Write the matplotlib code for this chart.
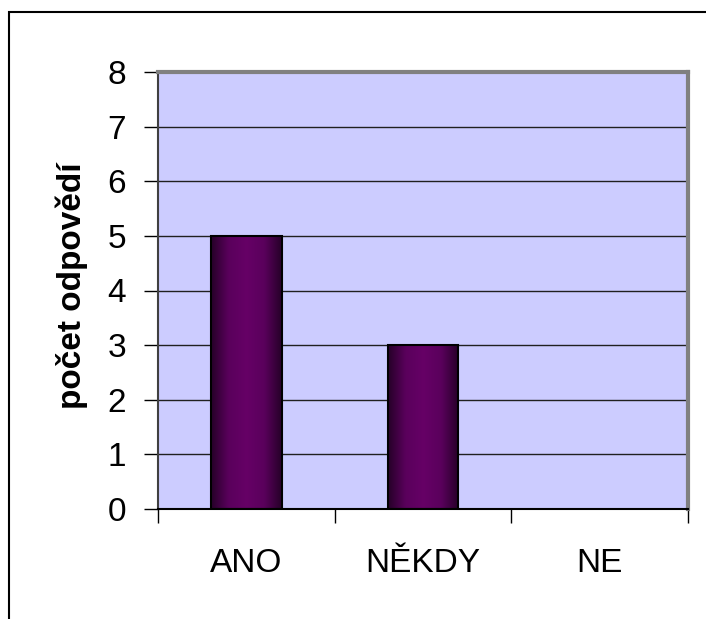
import numpy as np
import matplotlib.pyplot as plt
from matplotlib.colors import LinearSegmentedColormap
from matplotlib.patches import Rectangle

kategorie = ['ANO', 'NĚKDY', 'NE']
pocty = [5, 3, 0]
y_ticks = [0, 1, 2, 3, 4, 5, 6, 7, 8]

plt.rcParams['font.family'] = ['Liberation Sans', 'DejaVu Sans']

W, H = 706, 619
fig = plt.figure(figsize=(W / 100, H / 100), dpi=100)
fig.patch.set_facecolor('white')

# ramecek kolem celeho grafu (vpravo a dole presahuje obrazek)
fig.add_artist(Rectangle((9 / W, -0.1), 1.2, 1 - 12 / H + 0.1, transform=fig.transFigure,
                         fill=False, edgecolor='black', linewidth=1.5))

ax = fig.add_axes([158 / W, 1 - 509 / H, (688 - 158) / W, (509 - 72) / H])
ax.set_facecolor('#CCCCFF')

x = np.arange(len(kategorie))
sirka = 0.4

# vodorovna mrizka
for t in y_ticks[1:-1]:
    ax.axhline(t, color='#202020', linewidth=1, zorder=1)

# sloupce s prechodem tmava-fialova-tmava
cmap = LinearSegmentedColormap.from_list('sloupec', ['#260028', '#5a005c', '#660066', '#5a005c', '#260028'])
gradient = np.linspace(0, 1, 256).reshape(1, -1)
for xi, v in zip(x, pocty):
    if v <= 0:
        continue
    ax.imshow(gradient, cmap=cmap, aspect='auto', extent=(xi - sirka / 2, xi + sirka / 2, 0, v),
              zorder=2, interpolation='bilinear')
    ax.add_patch(Rectangle((xi - sirka / 2, 0), sirka, v, fill=False,
                           edgecolor='black', linewidth=1.5, zorder=3))

ax.set_xlim(-0.5, len(kategorie) - 0.5)
ax.set_ylim(0, 8)

ax.spines['top'].set_color('#808080')
ax.spines['top'].set_linewidth(3)
ax.spines['right'].set_color('#808080')
ax.spines['right'].set_linewidth(3)
ax.spines['left'].set_color('#404040')
ax.spines['left'].set_linewidth(1.5)
ax.spines['bottom'].set_color('black')
ax.spines['bottom'].set_linewidth(1.5)

ax.set_yticks(y_ticks)
ax.set_yticklabels([str(t) for t in y_ticks], fontsize=24)
ax.tick_params(axis='y', length=10, width=1, direction='out', pad=13)

# znacky na ose x na hranicich kategorii
ax.set_xticks(np.arange(-0.5, len(kategorie), 1.0))
ax.set_xticklabels([])
ax.tick_params(axis='x', length=10, width=1, direction='out')
ax.set_xticks(x, minor=True)
ax.set_xticklabels(kategorie, minor=True, fontsize=24)
ax.tick_params(axis='x', which='minor', length=0, pad=28)

ax.set_ylabel('počet odpovědí', fontsize=24, fontweight='bold')
ax.yaxis.set_label_coords(-0.132, 0.51)

fig.savefig('out.png', dpi=100)
